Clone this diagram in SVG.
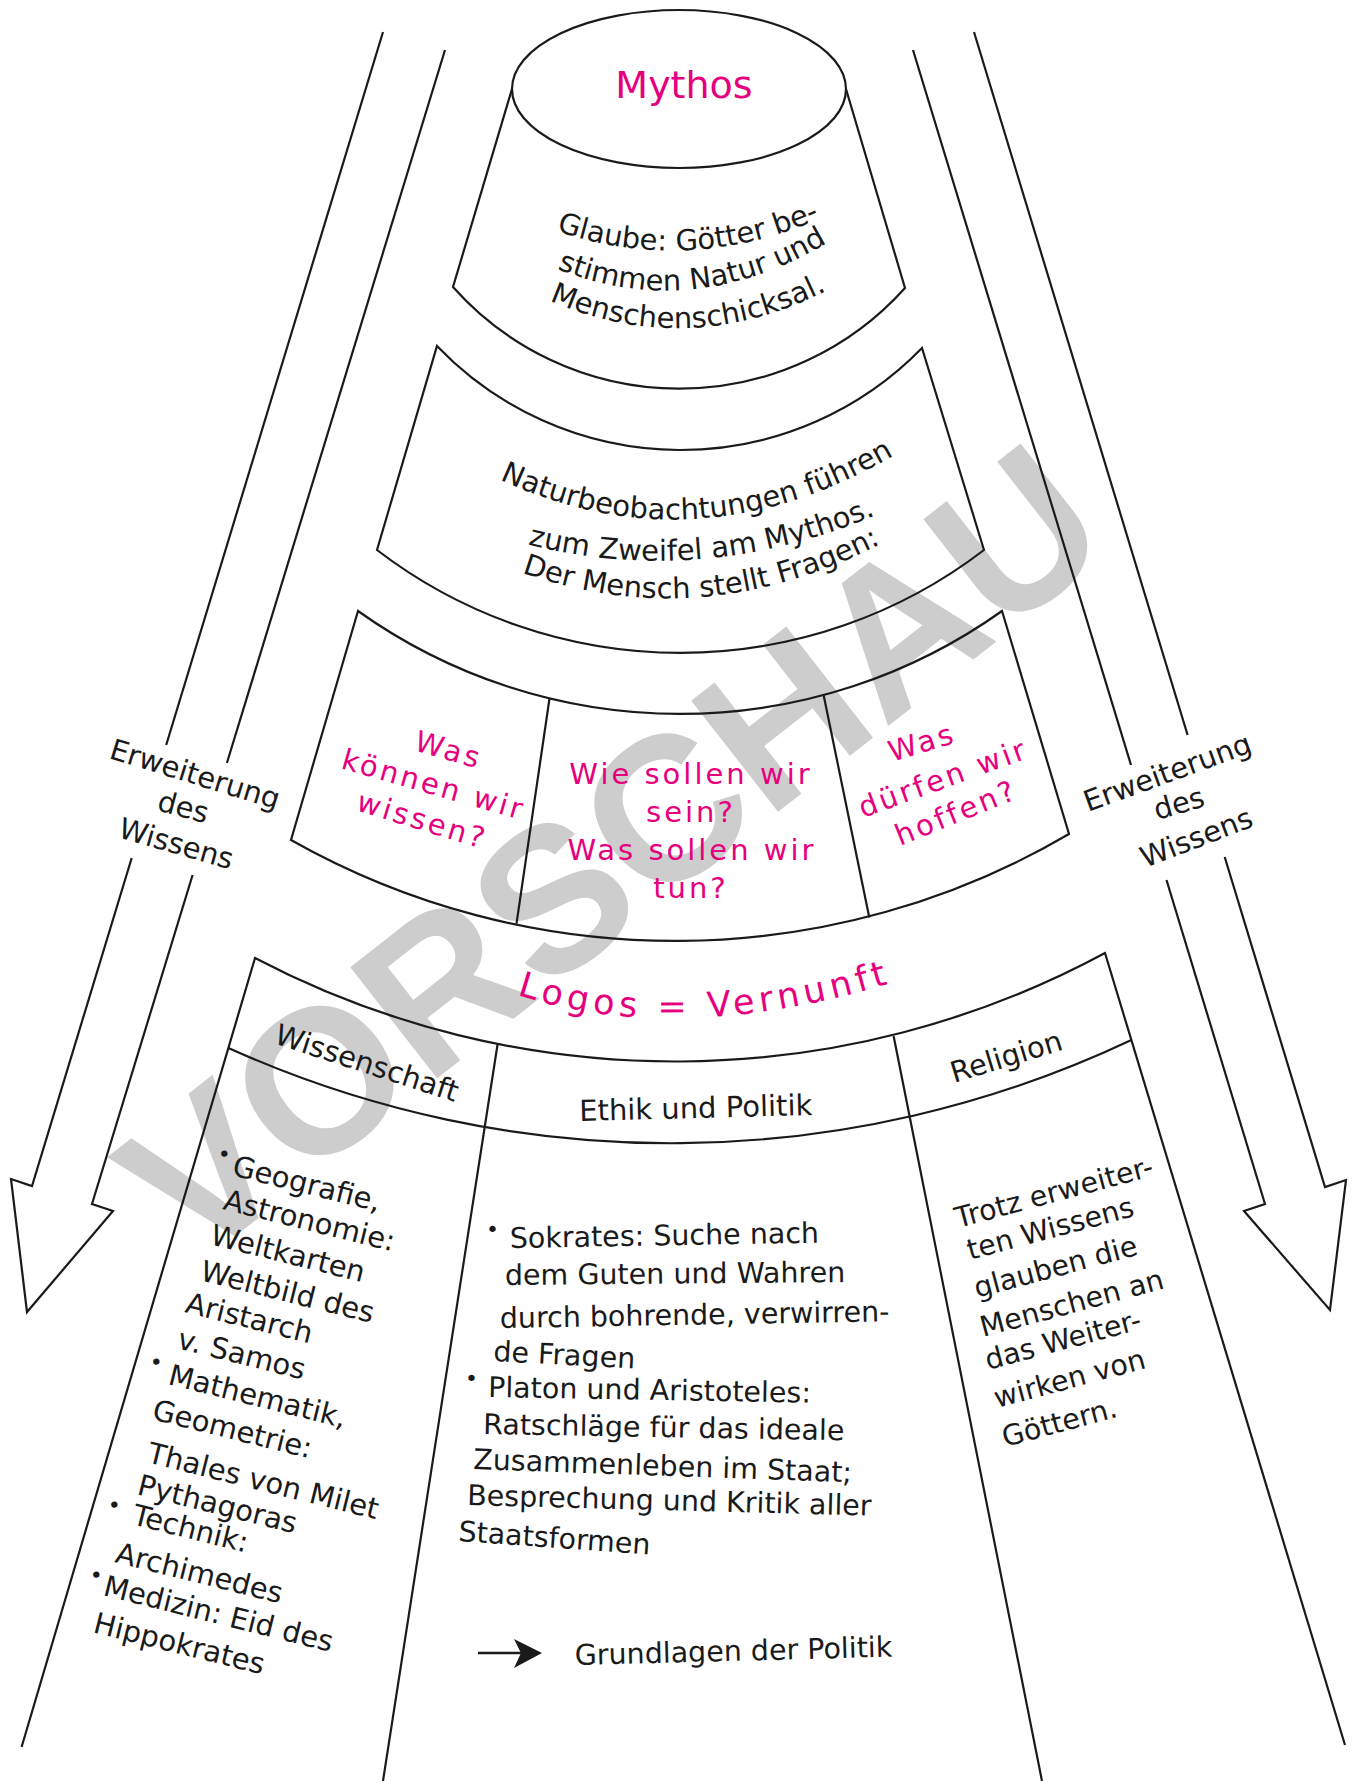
<svg xmlns="http://www.w3.org/2000/svg" width="1356" height="1781" viewBox="0 0 1356 1781">
<style>
.ln{fill:none;stroke:#1a1a1a;stroke-width:2.2;stroke-linejoin:miter}
.t{font-family:"DejaVu Sans",sans-serif;font-size:29px;fill:#1a1a1a}
.m{font-family:"DejaVu Sans",sans-serif;font-size:28.5px;fill:#1a1a1a}
.p{font-family:"DejaVu Sans",sans-serif;font-size:29px;fill:#e6007e;letter-spacing:3px}
.bu{font-family:"DejaVu Sans",sans-serif;font-size:22px;fill:#1a1a1a}
.wm{font-family:"Liberation Sans",Arial,sans-serif;font-weight:bold;font-size:205px;fill:#cdcdcd}
</style>
<defs>
<path id="g1" d="M548,228 Q688,279 828,215"/>
<path id="g2" d="M552,267 Q692,325 832,240"/>
<path id="g3" d="M548,300 Q688,361 828,290"/>
<path id="n1" d="M490,475 Q696,575 903,450"/>
<path id="n2" d="M522,543 Q701,590 881,513"/>
<path id="n3" d="M512,569 Q701,640 890,539"/>
<path id="lg" d="M515,994 Q675,1048 895,982"/>
</defs>
<rect width="1356" height="1781" fill="#ffffff"/>
<text class="wm" x="655" y="908" text-anchor="middle" transform="rotate(-38 655 908)">VORSCHAU</text>

<g id="connectors">
<path class="ln" d="M383,32 L166.2,745 M131.7,858 L32,1186 L11,1179 L27,1312 L113,1211 L92,1204 L192.6,875 M226.9,763 L445,50"/>
<path class="ln" d="M974,32 L1187.6,735 M1224.7,857 L1325,1187 L1346,1180 L1330,1310 L1244,1211 L1265,1204 L1166.5,880 M1131,765 L913,50"/>
<g id="label-left">
<text class="t" font-size="28" x="108" y="758" transform="rotate(17 108 758)">Erweiterung</text>
<text class="t" font-size="28" x="156" y="810" transform="rotate(15 156 810)">des</text>
<text class="t" font-size="28" x="117" y="837" transform="rotate(16 117 837)">Wissens</text>
</g>
<g id="label-right">
<text class="t" font-size="28" x="1088" y="812" transform="rotate(-20 1088 812)">Erweiterung</text>
<text class="t" font-size="28" x="1157" y="820" transform="rotate(-16 1157 820)">des</text>
<text class="t" font-size="28" x="1145" y="868" transform="rotate(-21 1145 868)">Wissens</text>
</g>
<g id="politik-arrow">
<line x1="478" y1="1653" x2="525" y2="1653" stroke="#1a1a1a" stroke-width="2.6"/>
<path d="M514,1639 L542,1653 L514,1668 L521,1653 Z" fill="#1a1a1a"/>
</g>
</g>

<g id="mythos">
<ellipse class="ln" cx="679" cy="89" rx="167" ry="79"/>
<path class="ln" d="M512,89 L453,287 A303,303 0 0 0 905,288 L846,89"/>
<text x="684" y="98" text-anchor="middle" style="font-family:'DejaVu Sans',sans-serif;font-size:38px;fill:#e6007e">Mythos</text>
<text class="t" font-size="30"><textPath href="#g1" startOffset="50%" text-anchor="middle">Glaube: Götter be-</textPath></text>
<text class="t" font-size="30"><textPath href="#g2" startOffset="50%" text-anchor="middle">stimmen Natur und</textPath></text>
<text class="t" font-size="30"><textPath href="#g3" startOffset="50%" text-anchor="middle">Menschenschicksal.</textPath></text>
</g>

<g id="naturbeobachtungen">
<path class="ln" d="M437,346 A337,337 0 0 0 922,348 L984,550 A499,499 0 0 1 377,550 Z"/>
<text class="t" font-size="30"><textPath href="#n1" startOffset="50%" text-anchor="middle">Naturbeobachtungen führen</textPath></text>
<text class="t" font-size="30"><textPath href="#n2" startOffset="50%" text-anchor="middle">zum Zweifel am Mythos.</textPath></text>
<text class="t" font-size="30"><textPath href="#n3" startOffset="50%" text-anchor="middle">Der Mensch stellt Fragen:</textPath></text>
</g>

<g id="fragen">
<path class="ln" d="M358,611 A555,555 0 0 0 1002,611 L1069,834 A780,780 0 0 1 291,840 Z"/>
<path class="ln" d="M549.5,698.5 L516.5,923.6 M823.6,695 L869.3,917.5"/>
<g id="frage-wissen">
<text class="p" x="413" y="750" transform="rotate(16 413 750)">Was</text>
<text class="p" x="340" y="768" transform="rotate(16 340 768)">können wir</text>
<text class="p" x="355" y="810" transform="rotate(17 355 810)">wissen?</text>
</g>
<g id="frage-tun" text-anchor="middle">
<text class="p" x="691" y="784">Wie sollen wir</text>
<text class="p" x="691" y="822">sein?</text>
<text class="p" x="692" y="860">Was sollen wir</text>
<text class="p" x="691" y="898">tun?</text>
</g>
<g id="frage-hoffen">
<text class="p" x="892" y="762" transform="rotate(-17 892 762)">Was</text>
<text class="p" x="863" y="818" transform="rotate(-20 863 818)">dürfen wir</text>
<text class="p" x="900" y="846" transform="rotate(-22 900 846)">hoffen?</text>
</g>
</g>

<g id="logos">
<path class="ln" d="M21.6,1747 L255,958 A905,905 0 0 0 1105,953 L1345,1745"/>
<path class="ln" d="M228.4,1048 A1077,1077 0 0 0 1131.4,1040"/>
<path class="ln" d="M497.7,1043.5 L383,1781 M893.6,1036 L1042,1781"/>
<text style="font-family:'DejaVu Sans',sans-serif;font-size:35px;fill:#e6007e;letter-spacing:5px"><textPath href="#lg" startOffset="50%" text-anchor="middle">Logos = Vernunft</textPath></text>
</g>

<g id="wissenschaft">
<text class="t" x="273" y="1043" transform="rotate(18 273 1043)">Wissenschaft</text>
<text class="bu" x="216" y="1160" transform="rotate(14 216 1160)">•</text>
<text class="t" x="231" y="1175" transform="rotate(14 231 1175)">Geografie,</text>
<text class="t" x="222" y="1209" transform="rotate(14 222 1209)">Astronomie:</text>
<text class="t" x="209" y="1244" transform="rotate(14 209 1244)">Weltkarten</text>
<text class="t" x="199" y="1280" transform="rotate(14 199 1280)">Weltbild des</text>
<text class="t" x="184" y="1312" transform="rotate(14 184 1312)">Aristarch</text>
<text class="t" x="176" y="1348" transform="rotate(14 176 1348)">v. Samos</text>
<text class="bu" x="148" y="1368" transform="rotate(14 148 1368)">•</text>
<text class="t" x="167" y="1384" transform="rotate(14 167 1384)">Mathematik,</text>
<text class="t" x="151" y="1419" transform="rotate(14 151 1419)">Geometrie:</text>
<text class="t" x="146" y="1462" transform="rotate(14 146 1462)">Thales von Milet</text>
<text class="t" x="136" y="1494" transform="rotate(14 136 1494)">Pythagoras</text>
<text class="bu" x="106" y="1511" transform="rotate(14 106 1511)">•</text>
<text class="t" x="131" y="1524" transform="rotate(14 131 1524)">Technik:</text>
<text class="t" x="114" y="1562" transform="rotate(14 114 1562)">Archimedes</text>
<text class="bu" x="88" y="1581" transform="rotate(14 88 1581)">•</text>
<text class="t" x="102" y="1595" transform="rotate(14 102 1595)">Medizin: Eid des</text>
<text class="t" x="92" y="1632" transform="rotate(14 92 1632)">Hippokrates</text>
</g>

<g id="ethik">
<text class="t" x="696" y="1118" text-anchor="middle" transform="rotate(-1.5 696 1118)">Ethik und Politik</text>
<text class="bu" x="486" y="1237">•</text>
<text class="m" x="510" y="1248" transform="rotate(-1 510 1248)">Sokrates: Suche nach</text>
<text class="m" x="505" y="1285" transform="rotate(-0.5 505 1285)">dem Guten und Wahren</text>
<text class="m" x="500" y="1328" transform="rotate(-1 500 1328)">durch bohrende, verwirren-</text>
<text class="m" x="493" y="1361" transform="rotate(3 493 1361)">de Fragen</text>
<text class="bu" x="465" y="1386">•</text>
<text class="m" x="488" y="1397" transform="rotate(1 488 1397)">Platon und Aristoteles:</text>
<text class="m" x="483" y="1434" transform="rotate(1 483 1434)">Ratschläge für das ideale</text>
<text class="m" x="473" y="1469" transform="rotate(2 473 1469)">Zusammenleben im Staat;</text>
<text class="m" x="467" y="1505" transform="rotate(1.5 467 1505)">Besprechung und Kritik aller</text>
<text class="m" x="458" y="1541" transform="rotate(4 458 1541)">Staatsformen</text>
<text class="m" x="575" y="1665" transform="rotate(-1.5 575 1665)">Grundlagen der Politik</text>
</g>

<g id="religion">
<text class="t" x="954" y="1083" transform="rotate(-17 954 1083)">Religion</text>
<text class="m" x="958" y="1228" transform="rotate(-15 958 1228)">Trotz erweiter-</text>
<text class="m" x="970" y="1260" transform="rotate(-15 970 1260)">ten Wissens</text>
<text class="m" x="977" y="1298" transform="rotate(-15 977 1298)">glauben die</text>
<text class="m" x="983" y="1337" transform="rotate(-15 983 1337)">Menschen an</text>
<text class="m" x="988" y="1370" transform="rotate(-15 988 1370)">das Weiter-</text>
<text class="m" x="997" y="1408" transform="rotate(-15 997 1408)">wirken von</text>
<text class="m" x="1005" y="1447" transform="rotate(-15 1005 1447)">Göttern.</text>
</g>
</svg>
